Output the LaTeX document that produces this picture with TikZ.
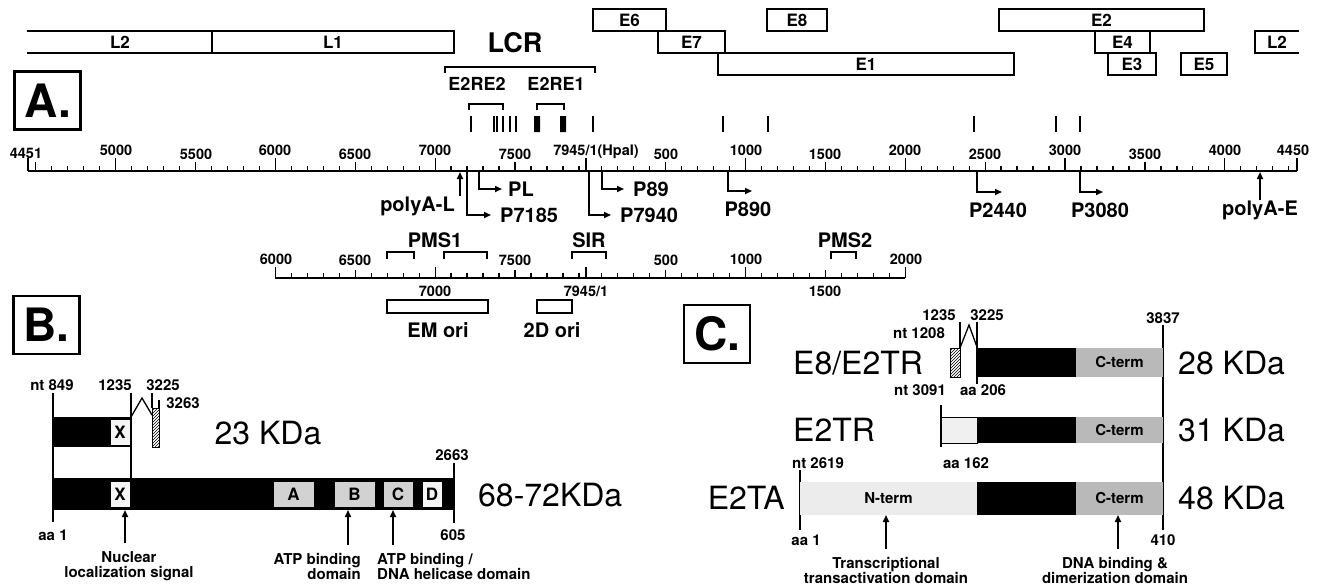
\documentclass[tikz,border=0pt]{standalone}
\usepackage{fontspec}
\setmainfont{TeX Gyre Heros}
\usetikzlibrary{arrows.meta, patterns, positioning}

\newcommand\fs[1]{\fontsize{#1}{#1}\selectfont}
% genome position -> x (late half 4451-7945, early half 1-4450)
\newcommand\gpL[1]{28+(#1-4451)*0.15973}
\newcommand\gpE[1]{586+(#1-1)*0.15973}

\begin{document}
\begin{tikzpicture}[x=1pt, y=-1pt,
    genebox/.style={draw, line width=1.6pt},
    genelbl/.style={font=\fs{17}\bfseries, inner sep=0pt},
    numlbl/.style={font=\fs{14.5}\bfseries, inner sep=0pt},
    promlbl/.style={font=\fs{20}\bfseries, inner sep=0pt},
    kdalbl/.style={font=\fs{32}, inner sep=0pt},
    smlbl/.style={font=\fs{15}\bfseries, inner sep=0pt, align=center},
    panel/.style={draw, line width=2.8pt, minimum width=66pt, minimum height=58pt, font=\fs{46}\bfseries, inner sep=0pt},
    dombox/.style={draw, line width=0.6pt, inner sep=0pt, font=\fs{17}\bfseries},
    ctbox/.style={fill=gray!55, inner sep=0pt, minimum width=87pt, font=\fs{15}\bfseries},
    rline/.style={line width=1.6pt},
    rtick/.style={line width=1.3pt},
    arr/.style={-{Triangle[length=7pt,width=6pt]}, line width=1.6pt},
  ]
\useasboundingbox (0,0) rectangle (1325,587);

% ---------- A. genome map ----------
\node[panel] (panA) at (47.5,100.5) {A.};

% open reading frames
\draw[genebox] (27,31) -- (212,31) (27,53) -- (212,53);
\draw[genebox] (212,31) rectangle (454,53);
\node[genelbl] (L2) at (120,42) {L2};
\node[genelbl] (L1) at (333,42) {L1};
\foreach \a/\b/\r/\t in {593/666/9/E6, 767/827/9/E8, 999/1204/9/E2,
    658/725/31/E7, 1095/1150/31/E4, 718/1014/53/E1, 1108/1156/53/E3, 1181/1227/53/E5}{
  \draw[genebox] (\a,\r) rectangle (\b,\r+22);
  \node[genelbl] (\t) at ({(\a+\b)/2},\r+11) {\t};
}
\draw[genebox] (1299,31) -- (1255,31) -- (1255,53) -- (1299,53);
\node[genelbl] (L2b) at (1277,42) {L2};

% LCR and E2 binding sites
\node[font=\fs{27}\bfseries, inner sep=0pt] (LCR) at (515,43) {LCR};
\draw[rline] (445,73) |- (595,67) -- (595,73);
\node[font=\fs{18}\bfseries, inner sep=0pt] (e2re2) at (477,84) {E2RE2};
\node[font=\fs{18}\bfseries, inner sep=0pt] (e2re1) at (556,84) {E2RE1};
\draw[rtick] (469,110) |- (503,104) -- (503,110);
\draw[rtick] (537,110) |- (564,104) -- (564,110);
\foreach \x in {471,494,497,503,510,516,593,723,768,974,1056,1080}
  \draw[rtick] (\x,116) -- (\x,132);
\fill (534,116) rectangle (540,132) (560,116) rectangle (566,132);

% ruler
\draw[rline] ({\gpL{4451}},171) -- ({\gpE{4450}},171);
\foreach \p in {4500,4600,...,7900}{
  \pgfmathsetmacro\hh{ifthenelse(mod(\p,1000)==0,13,ifthenelse(mod(\p,500)==0,9,5))}
  \draw[rtick] ({\gpL{\p}},171) -- ({\gpL{\p}},171-\hh);
}
\foreach \p in {100,200,...,4400}{
  \pgfmathsetmacro\hh{ifthenelse(mod(\p,1000)==0,13,ifthenelse(mod(\p,500)==0,9,5))}
  \draw[rtick] ({\gpE{\p}},171) -- ({\gpE{\p}},171-\hh);
}
\draw[rtick] (28,171) -- (28,158) (586,171) -- (586,158) (1297,171) -- (1297,158);
\foreach \x/\y/\t [count=\i] in {26/153/4451, 116/150/5000, 196/154/5500, 275/150/6000,
    355/154/6500, 435/150/7000, 515/154/7500, 596/152/{7945/1(HpaI)}, 666/154/500,
    746/150/1000, 825/154/1500, 905/150/2000, 985/154/2500, 1065/150/3000,
    1145/154/3500, 1225/150/4000, 1293/150/4450}
  \node[numlbl] (ra\i) at (\x,\y) {\t};

% promoters and polyA sites
\coordinate (tAL) at (460,171);
\node[promlbl, anchor=east] (polyAL) at (455,206) {polyA-L};
\draw[arr, shorten >=1pt] (tAL |- polyAL.north) -- (tAL);
\coordinate (t7185) at (467,171);
\node[promlbl, anchor=west] (P7185) at (500,215) {P7185};
\draw[arr] (t7185) |- ([xshift=-9pt]P7185.west);
\coordinate (tPL) at (479,171);
\node[promlbl, anchor=west] (PL) at (508,189) {PL};
\draw[arr] (tPL) |- ([xshift=-6pt]PL.west);
\coordinate (t7940) at (589,171);
\node[promlbl, anchor=west] (P7940) at (620,215) {P7940};
\draw[arr] (t7940) |- ([xshift=-9pt]P7940.west);
\coordinate (t89) at (602,171);
\node[promlbl, anchor=west] (P89) at (633,189) {P89};
\draw[arr] (t89) |- ([xshift=-9pt]P89.west);
\coordinate (t890) at (728,171);
\coordinate (e890) at (752,191);
\node[promlbl] (P890) at (748,209) {P890};
\draw[arr] (t890) |- (e890);
\coordinate (t2440) at (977,171);
\coordinate (e2440) at (1002,192);
\node[promlbl] (P2440) at (998,210) {P2440};
\draw[arr] (t2440) |- (e2440);
\coordinate (t3080) at (1080,171);
\coordinate (e3080) at (1103,192);
\node[promlbl] (P3080) at (1100,210) {P3080};
\draw[arr] (t3080) |- (e3080);
\coordinate (tAE) at (1260,171);
\node[promlbl] (polyAE) at (1260,210) {polyA-E};
\draw[arr, shorten >=1pt] (tAE |- polyAE.north) -- (tAE);

% enlarged LCR ruler
\draw[rline] ({\gpL{6000}},278) -- ({\gpE{2000}},278);
\foreach \p in {6100,6200,...,7900}{
  \pgfmathsetmacro\hh{ifthenelse(mod(\p,1000)==0,11,ifthenelse(mod(\p,500)==0,8,5))}
  \draw[rtick] ({\gpL{\p}},278) -- ({\gpL{\p}},278-\hh);
}
\foreach \p in {100,200,...,1900}{
  \pgfmathsetmacro\hh{ifthenelse(mod(\p,1000)==0,11,ifthenelse(mod(\p,500)==0,8,5))}
  \draw[rtick] ({\gpE{\p}},278) -- ({\gpE{\p}},278-\hh);
}
\draw[rtick] ({\gpL{6000}},278) -- ({\gpL{6000}},267) (586,278) -- (586,267) ({\gpE{2000}},278) -- ({\gpE{2000}},267);
\foreach \x/\y/\t [count=\i] in {276/259/6000, 355/260/6500, 515/260/7500, 666/260/500,
    746/259/1000, 906/259/2000, 435/291/7000, 586/291/{7945/1}, 825/291/1500}
  \node[numlbl] (rb\i) at (\x,\y) {\t};
\draw[rtick] (387,259) |- (414,252) -- (414,259);
\draw[rtick] (444,259) |- (487,252) -- (487,259);
\draw[rtick] (572,259) |- (606,252) -- (606,259);
\draw[rtick] (831,259) |- (856,252) -- (856,259);
\node[promlbl] (PMS1) at (435,240) {PMS1};
\node[promlbl] (SIR) at (589,240) {SIR};
\node[promlbl] (PMS2) at (845,240) {PMS2};
\draw[genebox] (387,300) rectangle (488,313);
\draw[genebox] (537,300) rectangle (572,313);
\node[promlbl] (EMori) at (438,330) {EM ori};
\node[promlbl] (Dori) at (552,330) {2D ori};

% ---------- B. E1 proteins ----------
\node[panel] (panB) at (46.5,325) {B.};
\node[smlbl] (nt849) at (52,385) {nt 849};
\node[smlbl] (b1235) at (115,385) {1235};
\node[smlbl] (b3225) at (163,385) {3225};
\node[smlbl] (b3263) at (183,403) {3263};
\node[smlbl] (b2663) at (452,455) {2663};
\node[smlbl] (baa1) at (53,535) {aa 1};
\node[smlbl] (b605) at (453,535) {605};
\draw[rtick] (53,393) -- (53,522);
\draw[rtick] (131,393) -- (131,478);
\draw[rtick] (454,463) -- (454,523);
% 23 KDa form
\fill (53,417) rectangle (131,447);
\node[dombox, fill=gray!8, minimum width=20pt, minimum height=26pt] (x1) at (120,432) {X};
\draw[rtick] (131,417) -- (142,398) -- (152,415);
\draw[rtick] (152,393) -- (152,408) (159,400) -- (159,408);
\draw[line width=1pt, pattern=north east lines] (152,408) rectangle (159,447);
\node[kdalbl] (kda23) at (268,433) {23 KDa};
% 68-72 KDa form
\fill (53,478) rectangle (454,510);
\node[dombox, fill=gray!8, minimum width=20pt, minimum height=26pt] (x2) at (120,494) {X};
\node[dombox, fill=gray!35, minimum width=41pt, minimum height=26pt] (dA) at (293.5,494) {A};
\node[dombox, fill=gray!35, minimum width=41pt, minimum height=26pt] (dB) at (354.5,494) {B};
\node[dombox, fill=gray!35, minimum width=30pt, minimum height=26pt] (dC) at (398,494) {C};
\node[dombox, fill=gray!8, minimum width=20pt, minimum height=26pt] (dD) at (432,494) {D};
\node[kdalbl, anchor=west] (kda68) at (478,495) {68-72KDa};
% domains
\coordinate (nlsT) at (125,510);
\node[smlbl] (nls) at (129,566) {Nuclear\\localization signal};
\draw[arr, shorten <=8pt] (nlsT |- nls.north) -- (nlsT);
\coordinate (atpT) at (348,510);
\node[smlbl, anchor=east, align=right] (atp) at (361,566) {ATP binding\\domain};
\draw[arr, shorten <=8pt] (atpT |- atp.north) -- (atpT);
\coordinate (helT) at (393,510);
\node[smlbl, anchor=west, align=left] (hel) at (377,566) {ATP binding /\\DNA helicase domain};
\draw[arr, shorten <=8pt] (helT |- hel.north) -- (helT);

% ---------- C. E2 proteins ----------
\node[panel] (panC) at (717,334) {C.};
\node[smlbl] (c1235) at (939,315) {1235};
\node[smlbl] (c3225) at (987,315) {3225};
\node[smlbl] (c3837) at (1163,318) {3837};
\node[smlbl] (nt1208) at (919,333) {nt 1208};
\node[smlbl] (nt3091) at (920,390) {nt 3091};
\node[smlbl] (aa206) at (983,390) {aa 206};
\node[smlbl] (nt2619) at (818,463) {nt 2619};
\node[smlbl] (aa162) at (966,463) {aa 162};
\node[smlbl] (caa1) at (806,540) {aa 1};
\node[smlbl] (c410) at (1163,540) {410};
\draw[rtick] (960,322) -- (960,348);
\draw[rtick] (977,322) -- (977,384);
\draw[rtick] (1163,325) -- (1163,530);
\draw[rtick] (941,405) -- (941,447);
\draw[rtick] (800,470) -- (800,530);
% E8/E2TR
\draw[line width=1pt, pattern=north east lines] (950,348) rectangle (960,377);
\draw[rtick] (960,348) -- (969,325) -- (977,347);
\fill (977,348) rectangle (1163,377);
\node[ctbox, minimum height=29pt] (ct1) at (1119.5,362.5) {C-term};
\node[kdalbl, anchor=west] (e8e2tr) at (793,363) {E8/E2TR};
\node[kdalbl, anchor=west] (kda28) at (1178,363) {28 KDa};
% E2TR
\draw[fill=gray!12, line width=0.8pt] (941,417) rectangle (977,443);
\fill (977,417) rectangle (1163,443);
\node[ctbox, minimum height=26pt] (ct2) at (1119.5,430) {C-term};
\node[kdalbl, anchor=west] (e2tr) at (793,430) {E2TR};
\node[kdalbl, anchor=west] (kda31) at (1178,430) {31 KDa};
% E2TA
\fill (800,482) rectangle (1163,515);
\node[ctbox, fill=gray!15, minimum width=177pt, minimum height=33pt] (nterm) at (888.5,498.5) {N-term};
\node[ctbox, minimum height=33pt] (ct3) at (1119.5,498.5) {C-term};
\node[kdalbl, anchor=east] (e2ta) at (785,498) {E2TA};
\node[kdalbl, anchor=west] (kda48) at (1178,498) {48 KDa};
% domains
\coordinate (trT) at (886,515);
\node[smlbl] (trans) at (886,570) {Transcriptional\\transactivation domain};
\draw[arr, shorten <=8pt] (trT |- trans.north) -- (trT);
\coordinate (dnaT) at (1118,515);
\node[smlbl] (dna) at (1115,570) {DNA binding \&\\dimerization domain};
\draw[arr, shorten <=8pt] (dnaT |- dna.north) -- (dnaT);
\end{tikzpicture}
\end{document}
